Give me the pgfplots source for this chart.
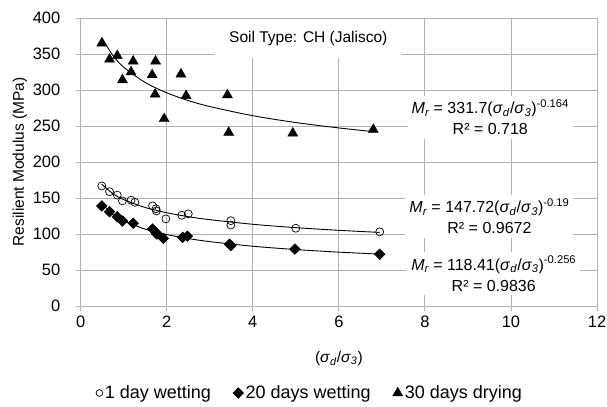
\documentclass[border=0pt]{standalone}
\usepackage{pgfplots}
\pgfplotsset{compat=1.18}
\usepackage{fontspec}
\setmainfont{Liberation Sans}
\newcommand{\sig}[1]{\textit{σ}\textsubscript{\textit{#1}}}
\newcommand{\ratio}{(\sig{d}/\sig{3})}
\begin{document}
\fontsize{15.5bp}{18bp}\selectfont
\begin{tikzpicture}
\begin{axis}[
  at={(80.7bp,101bp)}, anchor=south west,
  scale only axis,
  width=516.3bp, height=288bp,
  xmin=0, xmax=12, ymin=0, ymax=400,
  xtick={0,2,...,12}, ytick={0,50,...,400},
  /pgf/number format/assume math mode=true,
  ticklabel style={font=\fontsize{16.5bp}{19bp}\selectfont},
  yticklabel style={xshift=-10bp},
  grid=major,
  major grid style={draw=black!30, line width=0.9pt},
  axis line style={draw=black!30, line width=0.9pt},
  tick style={draw=black!30, line width=0.9pt},
  tick align=outside, major tick length=5bp,
  xtick pos=bottom, ytick pos=left,
  xlabel={\ratio},
  ylabel={Resilient Modulus (MPa)},
  xlabel style={at={(axis description cs:0.5,-0.181)}, anchor=center},
  ylabel style={at={(axis description cs:-0.118,0.5)}, anchor=center, rotate=0},
  legend style={at={(axis description cs:0.444,-0.302)}, anchor=center, draw=none, fill=none,
    legend columns=3, font=\fontsize{18bp}{21bp}\selectfont, inner sep=0pt,
    /tikz/every odd column/.append style={column sep=0bp},
    /tikz/every even column/.append style={column sep=20bp}},
  legend cell align=left,
  legend image code/.code={\draw[#1] plot coordinates {(0.14cm,0cm)};},
]
% 1 day wetting
\addplot[only marks, mark=o, mark size=4bp, black, line width=0.7pt,
  legend image post style={scale=0.85}] table {
x y
0.49 166.7
0.67 158.8
0.85 154
0.97 146
1.17 147
1.26 144
1.67 139
1.75 135
1.76 132
1.98 121
2.35 126
2.50 128
3.49 118.5
3.49 112.5
5.00 108
6.95 103
};
\addlegendentry{1 day wetting}
% 20 days wetting
\addplot[only marks, mark=square*, mark size=3.8bp, mark options={rotate=45}, black] table {
x y
0.49 139
0.67 131
0.85 124
0.97 118
1.22 115
1.67 107
1.75 102
1.77 100
1.92 94
2.37 95.4
2.48 97
3.46 85.7
3.49 84
4.98 79
6.95 72
};
\addlegendentry{20 days wetting}
% 30 days drying
\addplot[only marks, mark=triangle*, mark size=5.8bp, black] table {
x y
0.49 365
0.67 342.6
0.85 347.6
0.97 314
1.17 325
1.22 340
1.66 321
1.74 340
1.73 294
1.94 260
2.33 322
2.45 292
3.41 293
3.44 241
4.93 240
6.80 245
};
\addlegendentry{30 days drying}
% trend lines (power fits)
\addplot[black, line width=0.9pt, smooth, forget plot] table {
x y
0.49 169.2
0.75 156.0
1 147.72
1.5 136.8
2 129.5
2.5 124.1
3 119.9
4 113.5
5 108.8
6 105.1
6.95 102.2
};
\addplot[black, line width=0.9pt, smooth, forget plot] table {
x y
0.49 142.1
0.75 127.5
1 118.41
1.5 106.7
2 99.2
2.5 93.7
3 89.4
4 83.0
5 78.4
6 74.8
6.95 72.1
};
\addplot[black, line width=0.9pt, smooth, forget plot] table {
x y
0.49 372.9
0.75 347.7
1 331.7
1.5 310.4
2 296.1
2.5 285.4
3 277.0
4 264.3
5 254.8
6 247.3
6.80 242.2
};
\node[fill=white, inner sep=0pt, minimum width=186bp, minimum height=39bp] at (axis cs:5.29,371.5) {Soil Type: CH (Jalisco)};
\node[fill=white, align=center, inner sep=4bp, font=\fontsize{16bp}{21bp}\selectfont] at (axis cs:9.52,262) {\textit{M\textsubscript{r}} = 331.7\ratio\textsuperscript{-0.164}\\R² = 0.718};
\node[fill=white, align=center, inner sep=4bp, font=\fontsize{16bp}{21bp}\selectfont] at (axis cs:9.5,124.5) {\textit{M\textsubscript{r}} = 147.72\ratio\textsuperscript{-0.19}\\R² = 0.9672};
\node[fill=white, align=center, inner sep=4bp, font=\fontsize{16bp}{21bp}\selectfont] at (axis cs:9.6,45) {\textit{M\textsubscript{r}} = 118.41\ratio\textsuperscript{-0.256}\\R² = 0.9836};
\end{axis}
\pgfresetboundingbox
\path (0,0) rectangle (607bp,407bp);
\end{tikzpicture}
\end{document}
